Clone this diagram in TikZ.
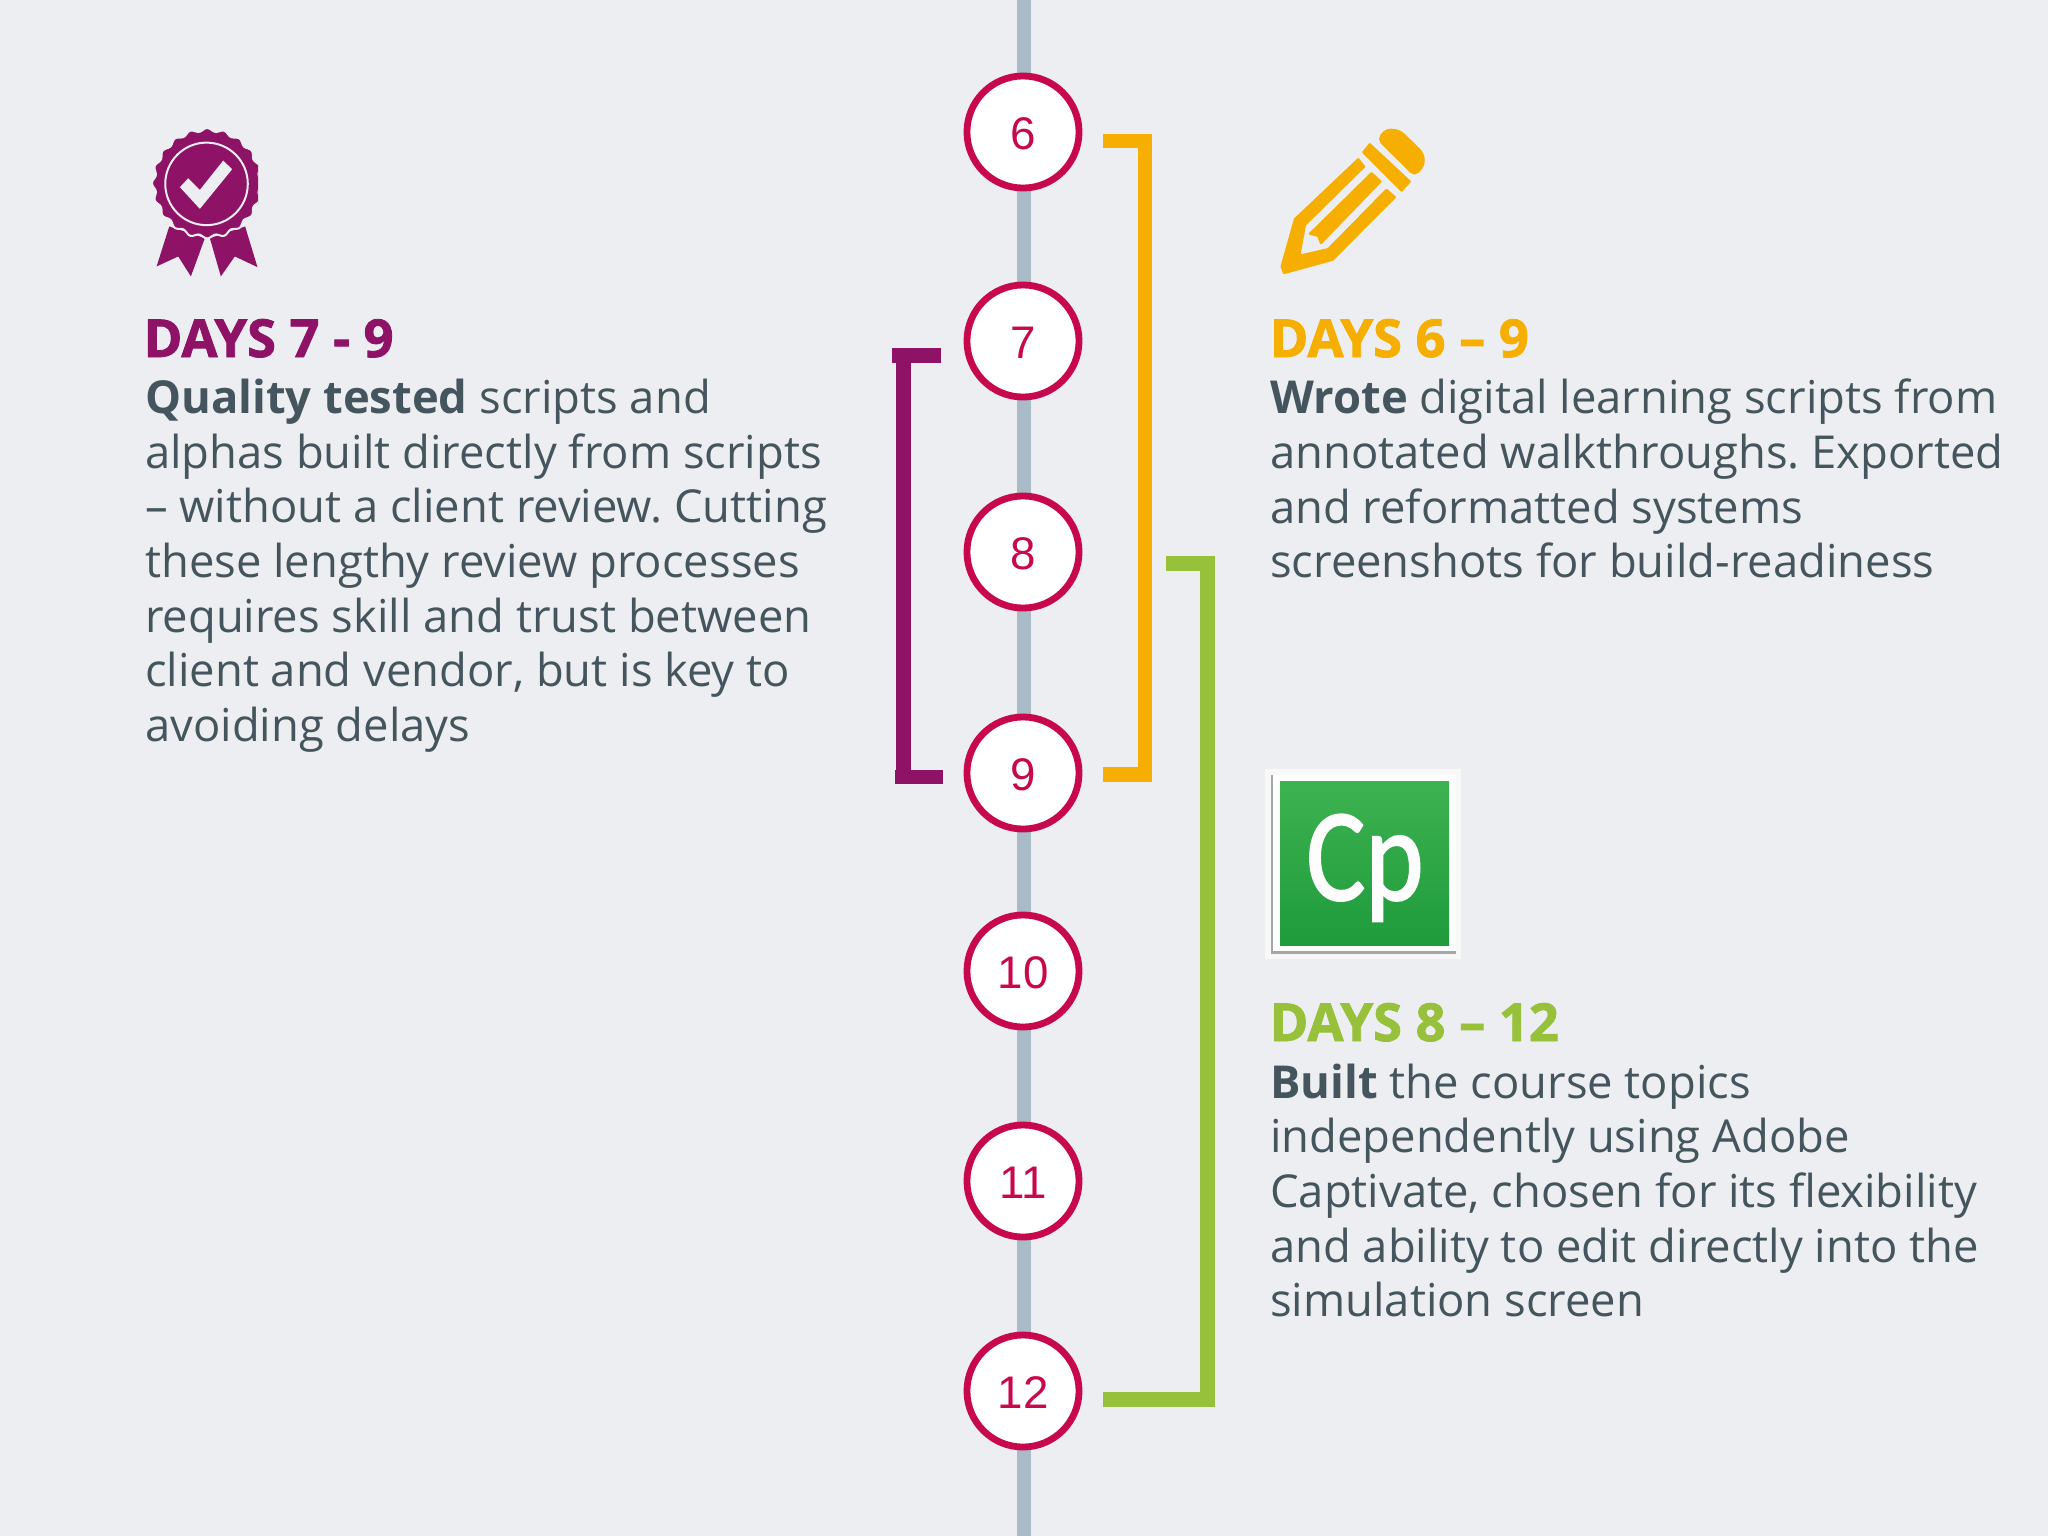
\documentclass[tikz,border=0pt]{standalone}
\usepackage{fontspec}
\setmainfont{Open Sans}
\newfontfamily\numfont{Liberation Sans}
\newfontfamily\headfont[BoldFeatures={FakeBold=1.6}]{Open Sans}
\newfontfamily\cpfont[FakeBold=1.6]{Carlito}
\definecolor{bgc}{HTML}{EDEEF1}
\definecolor{spine}{HTML}{A9BBC6}
\definecolor{ringc}{HTML}{C8084C}
\definecolor{txt}{HTML}{45555E}
\definecolor{purp}{HTML}{8E1266}
\definecolor{yel}{HTML}{F6AF00}
\definecolor{grn}{HTML}{97C03B}
\definecolor{cptop}{HTML}{3EB250}
\definecolor{cpbot}{HTML}{1E9B3C}
\newcommand{\daynum}[1]{\raisebox{-0.17cm}[0pt][0pt]{#1}}
\tikzset{
 daynode/.style={circle,draw=ringc,fill=white,line width=0.068cm,minimum size=1.12cm,inner sep=0,text=ringc,font=\numfont\fontsize{13}{16}\selectfont},
 bracket/.style={line width=0.145cm,line cap=butt,line join=miter},
 heading/.style={anchor=base west,inner sep=0,font=\headfont\bfseries\fontsize{14.9}{17}\selectfont},
 body/.style={anchor=north west,inner sep=0,align=left,text=txt,font=\frenchspacing\fontsize{12.9}{15.53}\selectfont},
 penc/.style={fill=yel,draw=yel,line width=0.022cm,line join=round}
}
\begin{document}
\begin{tikzpicture}[x=0.01cm,y=-0.01cm]
\useasboundingbox (0,0) rectangle (2048,1536);
\fill[bgc] (0,0) rectangle (2048,1536);
% spine
\coordinate (top) at (1024,0);
\coordinate (bot) at (1024,1536);
\draw[spine,line width=0.143cm] (top) -- (bot);
% day nodes
\node[daynode] (d6) at (1023,132) {\daynum{6}};
\node[daynode] (d7) at (1023,341) {\daynum{7}};
\node[daynode] (d8) at (1023,552) {\daynum{8}};
\node[daynode] (d9) at (1023,773) {\daynum{9}};
\node[daynode] (d10) at (1023,971) {\daynum{10}};
\node[daynode] (d11) at (1023,1181) {\daynum{11}};
\node[daynode] (d12) at (1023,1391) {\daynum{12}};
% brackets
\coordinate (ya) at (1103,141); \coordinate (yb) at (1145,141);
\coordinate (yc) at (1145,774.5); \coordinate (yd) at (1103,774.5);
\draw[bracket,yel] (ya) -- (yb) -- (yc) -- (yd);
\coordinate (ga) at (1166,563.3); \coordinate (gb) at (1207.7,563.3);
\coordinate (gc) at (1207.7,1399.7); \coordinate (gd) at (1103,1399.7);
\draw[bracket,grn] (ga) -- (gb) -- (gc) -- (gd);
\coordinate (pa) at (892,355.5); \coordinate (pb) at (941,355.5);
\coordinate (pc) at (903.3,355.5); \coordinate (pd) at (903.3,777);
\coordinate (pe) at (894.7,777); \coordinate (pf) at (943.3,777);
\draw[bracket,purp] (pa) -- (pb);
\draw[bracket,purp] (pc) -- (pd);
\draw[bracket,purp] (pe) -- (pf);
% medal
\begin{scope}[shift={(120,110)},x=0.00333333cm,y=-0.00333333cm]
 \begin{scope}
 \clip (0,0) rectangle (415,540);
 \fill[purp] (148,350) -- (110,470) -- (175,440) -- (213,500) -- (255,385) -- cycle;
 \fill[purp] (270,385) -- (303,500) -- (345,440) -- (413,472) -- (376,350) -- cycle;
 \filldraw[purp,draw=bgc,line width=0.02cm] plot[domain=0:360,samples=145,smooth cycle] ({262+(161+5*cos(20*\x))*cos(\x)},{220+(161+5*cos(20*\x))*sin(\x)});
 \end{scope}
 \draw[bgc,line width=0.02cm] (260,222) circle (124);
 \fill[bgc] (180,232) -- (205,205) -- (240,240) -- (310,152) -- (337,178) -- (240,297) -- cycle;
\end{scope}
% pencil
\begin{scope}[shift={(1260,110)},x=0.00333333cm,y=-0.00333333cm]
 \path[penc] (295,148) -- (105,328) -- (65,470) -- (72,490) -- (218,450) -- (405,262) -- (380,240) -- (205,418) -- (118,438) -- (135,345) -- (313,170) -- cycle;
 \path[penc] (335,190) -- (362,215) -- (183,400) -- (175,378) -- (150,372) -- cycle;
 \path[penc] (330,103) -- (450,215) -- (425,242) -- (310,127) -- cycle;
 \path[penc,rounded corners=0.05cm] (355,88) -- (380,58) -- (420,62) -- (490,130) -- (493,165) -- (465,197) -- cycle;
\end{scope}
% Cp icon
\fill[white!60!bgc] (1265,769) rectangle (1461,959);
\fill[gray!70] (1271,775) rectangle (1456,954);
\fill[white!92!bgc] (1273,775) rectangle (1456,951);
\shade[top color=cptop,bottom color=cpbot] (1280,781) rectangle (1449,945);
\node[inner sep=0,anchor=base,xscale=0.84,text=white!90!bgc,font=\cpfont\fontsize{37.5}{40}\selectfont] (cp) at (1365,900) {Cp};
% texts
\node[heading,text=purp] (h1) at (143,357) {DAYS 7 - 9};
\node[body] (t1) at (144.5,378.5) {\textbf{Quality tested} scripts and\\alphas built directly from scripts\\– without a client review. Cutting\\these lengthy review processes\\requires skill and trust between\\client and vendor, but is key to\\avoiding delays};
\node[heading,text=yel] (h2) at (1269,357) {DAYS 6 – 9};
\node[body] (t2) at (1269.5,378.5) {\textbf{Wrote} digital learning scripts from\\annotated walkthroughs. Exported\\and reformatted systems\\screenshots for build-readiness};
\node[heading,text=grn] (h3) at (1269,1041) {DAYS 8 – 12};
\node[body] (t3) at (1269.5,1063) {\textbf{Built} the course topics\\independently using Adobe\\Captivate, chosen for its flexibility\\and ability to edit directly into the\\simulation screen};
\end{tikzpicture}
\end{document}
